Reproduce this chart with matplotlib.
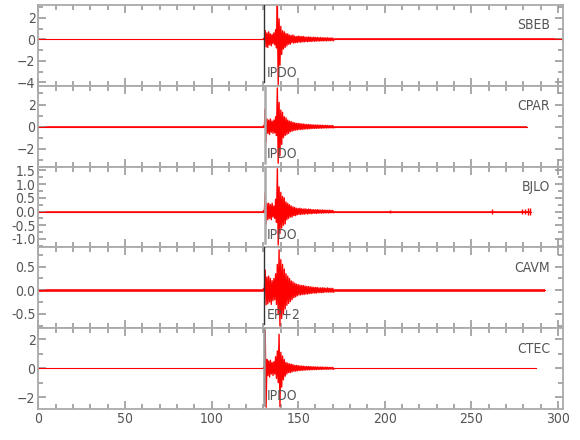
import numpy as np
import matplotlib.pyplot as plt
from matplotlib import font_manager as fm
from matplotlib.ticker import MultipleLocator

# pick a narrow sans face if one is installed, else DejaVu Sans
narrow = None
for f in fm.fontManager.ttflist:
    base = f.fname.lower()
    if ('narrow' in base or 'condensed' in base) and 'bold' not in base \
            and 'italic' not in base and 'oblique' not in base and 'light' not in base:
        if any(k in base for k in ('liberation', 'dejavu', 'roboto', 'noto', 'opensans', 'open')):
            narrow = f
            break
if narrow is not None:
    plt.rcParams['font.family'] = [narrow.name, 'DejaVu Sans']
    plt.rcParams['font.stretch'] = narrow.stretch
else:
    plt.rcParams['font.family'] = ['DejaVu Sans']

# station names, pick labels and pick times (s)
stations = ['SBEB', 'CPAR', 'BJLO', 'CAVM', 'CTEC']
pick_labels = ['IPDO', 'IPDO', 'IPDO', 'EP+2', 'IPDO']
pick_times = [130.3, 130.6, 130.6, 130.5, 130.5]
trace_ends = [303, 282, 284.7, 292.6, 287.5]

# y limits and tick steps
ylims = [(-4.3, 3.2), (-3.6, 3.7), (-1.31, 1.64), (-0.81, 0.91), (-2.83, 2.76)]
ymajor = [2, 2, 0.5, 0.5, 2]
yminor = [1, 1, 0.25, 0.25, 1]

# per-second peak (hi) and trough (lo) amplitudes from t = 130 s to 170 s
t_start = 130
sbeb_hi = [0.05, 0.8, 0.6, 0.7, 0.5, 0.45, 0.6, 0.9, 3.5, 1.9, 1.2, 0.8, 0.7, 0.55, 0.5,
           0.4, 0.35, 0.4, 0.3, 0.25, 0.3, 0.28, 0.25, 0.27, 0.22, 0.2, 0.22, 0.2, 0.18,
           0.2, 0.17, 0.18, 0.15, 0.17, 0.14, 0.15, 0.13, 0.14, 0.12, 0.13, 0.12]
sbeb_lo = [-0.05, -0.7, -0.75, -0.5, -0.6, -0.4, -0.5, -0.8, -4.2, -2.4, -1.4, -0.9, -0.75,
           -0.6, -0.45, -0.45, -0.3, -0.35, -0.3, -0.3, -0.25, -0.27, -0.22, -0.24, -0.2,
           -0.22, -0.19, -0.2, -0.17, -0.18, -0.16, -0.15, -0.16, -0.14, -0.15, -0.13,
           -0.14, -0.12, -0.13, -0.11, -0.12]
cpar_hi = [0.05, 1.6, 0.7, 0.6, 0.7, 0.5, 0.6, 0.9, 3.5, 2.2, 1.5, 1.3, 0.9, 0.8, 0.6,
           0.5, 0.45, 0.4, 0.35, 0.3, 0.3, 0.28, 0.25, 0.24, 0.22, 0.2, 0.2, 0.18, 0.17,
           0.16, 0.15, 0.15, 0.14, 0.13, 0.13, 0.12, 0.12, 0.11, 0.1, 0.1, 0.1]
cpar_lo = [-0.05, -1.4, -0.6, -0.7, -0.5, -0.6, -0.55, -0.8, -3.3, -2.6, -1.6, -1.0, -0.8,
           -0.7, -0.6, -0.45, -0.4, -0.35, -0.3, -0.3, -0.25, -0.26, -0.23, -0.22, -0.2,
           -0.2, -0.18, -0.17, -0.16, -0.15, -0.15, -0.14, -0.13, -0.13, -0.12, -0.11,
           -0.11, -0.1, -0.1, -0.1, -0.09]
bjlo_hi = [0.02, 0.69, 0.3, 0.3, 0.25, 0.3, 0.2, 0.45, 1.56, 0.9, 0.7, 0.55, 0.5, 0.35,
           0.3, 0.25, 0.2, 0.17, 0.15, 0.12, 0.11, 0.12, 0.1, 0.09, 0.1, 0.08, 0.09, 0.08,
           0.07, 0.07, 0.06, 0.07, 0.06, 0.05, 0.06, 0.05, 0.05, 0.04, 0.05, 0.04, 0.04]
bjlo_lo = [-0.02, -0.45, -0.3, -0.25, -0.3, -0.2, -0.25, -0.4, -1.22, -0.8, -0.6, -0.5,
           -0.45, -0.3, -0.25, -0.2, -0.2, -0.15, -0.15, -0.12, -0.1, -0.11, -0.09, -0.1,
           -0.08, -0.09, -0.07, -0.08, -0.07, -0.06, -0.07, -0.06, -0.05, -0.06, -0.05,
           -0.05, -0.04, -0.05, -0.04, -0.04, -0.04]
cavm_hi = [0.03, 0.43, 0.28, 0.3, 0.25, 0.2, 0.25, 0.35, 0.55, 0.86, 0.65, 0.55, 0.45,
           0.35, 0.3, 0.25, 0.2, 0.18, 0.15, 0.13, 0.12, 0.11, 0.1, 0.1, 0.09, 0.08, 0.08,
           0.07, 0.07, 0.06, 0.06, 0.06, 0.05, 0.05, 0.05, 0.05, 0.04, 0.05, 0.04, 0.04,
           0.04]
cavm_lo = [-0.03, -0.31, -0.29, -0.25, -0.3, -0.22, -0.2, -0.3, -0.5, -0.76, -0.6, -0.5,
           -0.4, -0.32, -0.28, -0.24, -0.2, -0.16, -0.14, -0.12, -0.1, -0.1, -0.09, -0.09,
           -0.08, -0.08, -0.07, -0.07, -0.06, -0.06, -0.06, -0.05, -0.05, -0.05, -0.05,
           -0.04, -0.04, -0.04, -0.04, -0.04, -0.04]
ctec_hi = [0.05, 2.6, 0.6, 0.5, 0.55, 0.4, 0.45, 0.8, 1.2, 2.35, 1.1, 0.85, 0.6, 0.4,
           0.35, 0.3, 0.28, 0.25, 0.2, 0.2, 0.18, 0.16, 0.15, 0.14, 0.13, 0.12, 0.12, 0.11,
           0.1, 0.1, 0.09, 0.09, 0.08, 0.08, 0.08, 0.07, 0.07, 0.07, 0.06, 0.06, 0.06]
ctec_lo = [-0.05, -2.7, -0.5, -0.6, -0.4, -0.5, -0.4, -0.7, -1.0, -2.65, -1.3, -0.8,
           -0.55, -0.4, -0.3, -0.3, -0.25, -0.2, -0.2, -0.18, -0.16, -0.15, -0.14, -0.13,
           -0.12, -0.11, -0.11, -0.1, -0.1, -0.09, -0.09, -0.08, -0.08, -0.08, -0.07,
           -0.07, -0.07, -0.06, -0.06, -0.06, -0.06]
his = [sbeb_hi, cpar_hi, bjlo_hi, cavm_hi, ctec_hi]
los = [sbeb_lo, cpar_lo, bjlo_lo, cavm_lo, ctec_lo]

# background noise amplitude before and after the event window
noise_pre = [0.06, 0.06, 0.025, 0.035, 0.05]
noise_post = [0.1, 0.08, 0.03, 0.035, 0.05]

# small late bursts on BJLO (time, amplitude)
bjlo_burst_t = [203, 262, 279, 281, 282.5, 284]
bjlo_burst_a = [0.06, 0.1, 0.08, 0.1, 0.12, 0.13]

pick_col = ['#333333', '#aaaaaa', '#aaaaaa', '#333333', '#999999']
pick_lw = [1.0, 1.8, 1.8, 1.0, 1.8]

fig, axes = plt.subplots(5, 1, figsize=(5.8, 4.4), dpi=100, sharex=True)
fig.subplots_adjust(left=0.066, right=0.971, top=0.989, bottom=0.07, hspace=0)

red = '#ff0000'
for i, ax in enumerate(axes):
    hi = np.array(his[i])
    lo = np.array(los[i])
    n = len(hi)
    t_hi = t_start + np.arange(n)
    t_lo = t_hi + 0.5
    tt = np.empty(2 * n)
    yy = np.empty(2 * n)
    tt[0::2], tt[1::2] = t_hi, t_lo
    yy[0::2], yy[1::2] = hi, lo
    t_end_win = tt[-1]

    # quiet stretches as noise bands
    ax.fill_between([0, t_start], -noise_pre[i], noise_pre[i], color=red, lw=0, alpha=0.8)
    ax.fill_between([t_end_win, trace_ends[i]], -noise_post[i], noise_post[i],
                    color=red, lw=0, alpha=0.8)
    ax.plot([0, trace_ends[i]], [0, 0], color=red, lw=0.8)
    ax.plot(tt, yy, color=red, lw=1.0)
    if stations[i] == 'BJLO':
        ax.vlines(bjlo_burst_t, -np.array(bjlo_burst_a), bjlo_burst_a, color=red, lw=1.0)

    ax.axvline(pick_times[i], ymin=0.05, ymax=1, color=pick_col[i], lw=pick_lw[i], zorder=3)
    ax.text(pick_times[i] + 1.5, 0.16, pick_labels[i], transform=ax.get_xaxis_transform(),
            ha='left', va='center', fontsize=10, color='#555555')
    ax.text(0.975, 0.75, stations[i], transform=ax.transAxes, ha='right', va='center',
            fontsize=10, color='#555555')

    ax.set_xlim(0, 303)
    ax.set_ylim(*ylims[i])
    ax.xaxis.set_major_locator(MultipleLocator(50))
    ax.xaxis.set_minor_locator(MultipleLocator(10))
    ax.yaxis.set_major_locator(MultipleLocator(ymajor[i]))
    ax.yaxis.set_minor_locator(MultipleLocator(yminor[i]))
    if ymajor[i] == 0.5:
        ax.yaxis.set_major_formatter(plt.FormatStrFormatter('%.1f'))
    ax.tick_params(which='both', direction='in', top=True, right=True,
                   color='#999999', width=1.2, labelsize=10, labelcolor='#555555', pad=2)
    ax.tick_params(which='major', length=6)
    ax.tick_params(which='minor', length=3.5)
    for s in ax.spines.values():
        s.set_color('#aaaaaa')
        s.set_linewidth(1.3)

plt.savefig('out.png', dpi=100)
